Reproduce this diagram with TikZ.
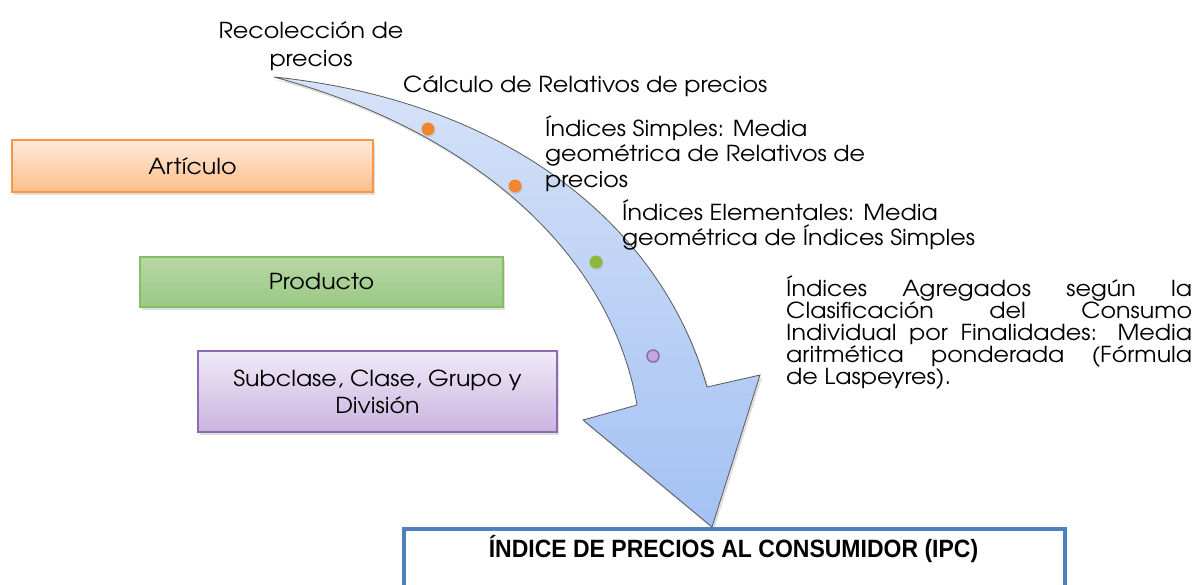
\documentclass[tikz,border=0pt]{standalone}
\usepackage{fontspec}
\setmainfont{TeX Gyre Adventor}[FakeStretch=1.08]
\newfontfamily\ipcfont{Liberation Sans}[FakeStretch=0.92]
\usetikzlibrary{shadows}
\definecolor{orB}{HTML}{F79646}
\definecolor{orT}{HTML}{FFEADB}
\definecolor{orD}{HTML}{FCBE8A}
\definecolor{grB}{HTML}{86BD63}
\definecolor{grT}{HTML}{B6D7A6}
\definecolor{grD}{HTML}{9BC985}
\definecolor{puB}{HTML}{8C6BB1}
\definecolor{puT}{HTML}{F0EAF7}
\definecolor{puD}{HTML}{CAB4E0}
\definecolor{arT}{HTML}{D6E2F7}
\definecolor{arD}{HTML}{A3C1F4}
\definecolor{blB}{HTML}{4F81BD}
\definecolor{dotO}{HTML}{F0862E}
\definecolor{dotG}{HTML}{8DB83A}
\definecolor{dotP}{HTML}{C3A9DA}
\definecolor{dotPB}{HTML}{8E6DB3}
\begin{document}
\begin{tikzpicture}[x=1pt,y=-1pt,
  boxstyle/.style={rectangle, line width=1.6pt, inner sep=0pt, align=center,
    font=\fontsize{22}{27}\selectfont,
    drop shadow={opacity=0.25, shadow xshift=2pt, shadow yshift=-3pt}},
  sidetext/.style={inner sep=0pt, anchor=north west, align=left,
    font=\fontsize{22}{22}\selectfont},
  dotstyle/.style={circle, inner sep=0pt, minimum size=13pt,
    drop shadow={opacity=0.2, shadow xshift=1pt, shadow yshift=-1.5pt}}]
\useasboundingbox (0,0) rectangle (1196,585);
% curved arrow
\draw[line width=0.8pt, draw=black!65, top color=arT, bottom color=arD,
      drop shadow={opacity=0.25, shadow xshift=2pt, shadow yshift=-3pt}]
  (274,77) .. controls (500,100) and (660,220) .. (707,387)
  -- (760,375) -- (712,527) -- (583,420) -- (637,405)
  .. controls (610,250) and (470,130) .. (274,77) -- cycle;
% dots
\node[dotstyle, fill=dotO] (d1) at (428,129) {};
\node[dotstyle, fill=dotO] (d2) at (515,186) {};
\node[dotstyle, fill=dotG] (d3) at (596,262) {};
\node[dotstyle, fill=dotP, draw=dotPB, line width=1.5pt, minimum size=12pt] (d4) at (653,356) {};
% left boxes
\node[boxstyle, draw=orB, top color=orT, bottom color=orD,
      minimum width=361pt, minimum height=52pt] (art) at (192.5,166) {Artículo};
\node[boxstyle, draw=grB, top color=grT, bottom color=grD,
      minimum width=363pt, minimum height=50pt] (prod) at (321.5,282) {\raisebox{-1.5pt}{Producto}};
\node[boxstyle, draw=puB, top color=puT, bottom color=puD,
      minimum width=359pt, minimum height=81pt] (sub) at (377.5,391.5)
      {\raisebox{-2pt}{Subclase, Clase, Grupo y}\\\raisebox{-2pt}{División}};
% IPC box
\draw[line width=3.5pt, draw=blB, fill=white] (404,529) rectangle (1065,610);
\node[inner sep=0pt, font=\ipcfont\bfseries\fontsize{25}{26}\selectfont] (ipc) at (733.5,549)
  {ÍNDICE DE PRECIOS AL CONSUMIDOR (IPC)};
% side texts
\node[inner sep=0pt, align=center, font=\fontsize{22}{28}\selectfont] (rec) at (311,46)
  {Recolección de\\precios};
\node[sidetext] (calc) at (403,75) {Cálculo de Relativos de precios};
\node[sidetext, font=\fontsize{22}{25.5}\selectfont] (simp) at (545,115)
  {Índices Simples: Media\\geométrica de Relativos de\\precios};
\node[sidetext, font=\fontsize{22}{25.5}\selectfont] (elem) at (622,199)
  {Índices Elementales: Media\\geométrica de Índices Simples};
\node[sidetext] (agr) at (786,275)
  {\makebox[406pt][s]{Índices Agregados según la}\\
   \makebox[406pt][s]{Clasificación del Consumo}\\
   \makebox[406pt][s]{Individual por Finalidades: Media}\\
   \makebox[406pt][s]{aritmética ponderada (Fórmula}\\
   de Laspeyres).};
\end{tikzpicture}
\end{document}
